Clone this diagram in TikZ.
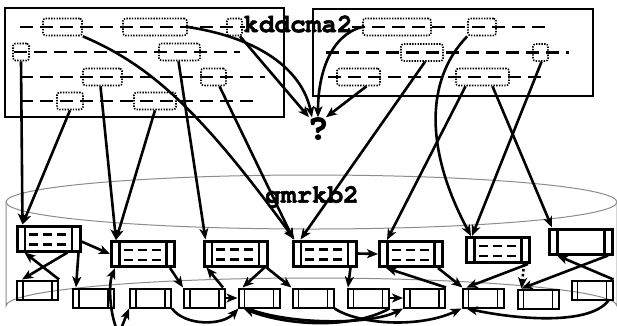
\documentclass[tikz,border=0pt]{standalone}
\usepackage{fontspec}
\newfontfamily\cour[BoldFeatures={FakeBold=2}]{TeX Gyre Cursor}
\usetikzlibrary{arrows.meta}
\begin{document}
\begin{tikzpicture}[x=1pt,y=-1pt,
  conn/.style={line width=2.6pt,-{Stealth[length=11pt,width=9pt,inset=3pt]}},
  bigbox/.style={line width=2.4pt},
  dline/.style={line width=2.4pt,dash pattern=on 13pt off 7pt},
  dbox/.style={draw,line width=1.6pt,dash pattern=on 1.4pt off 1.3pt,rounded corners=2.5pt,inner sep=0pt,minimum height=17pt,minimum width=#1},
  cyl/.style={draw=black!45,line width=1pt},
  lbl/.style={font=\cour\bfseries\fontsize{26}{26}\selectfont,inner sep=0pt},
  recB/.style={draw,line width=3pt,inner sep=0pt,minimum width=63pt,minimum height=25pt,
    path picture={
      \draw[line width=2.4pt] ([xshift=8pt]path picture bounding box.north west) -- ([xshift=8pt]path picture bounding box.south west);
      \draw[line width=2.4pt] ([xshift=-8pt]path picture bounding box.north east) -- ([xshift=-8pt]path picture bounding box.south east);
    }},
  recBd/.style={draw,line width=3pt,inner sep=0pt,minimum width=63pt,minimum height=25pt,
    path picture={
      \draw[line width=2.4pt] ([xshift=8pt]path picture bounding box.north west) -- ([xshift=8pt]path picture bounding box.south west);
      \draw[line width=2.4pt] ([xshift=-8pt]path picture bounding box.north east) -- ([xshift=-8pt]path picture bounding box.south east);
      \draw[line width=2.4pt,dash pattern=on 9pt off 5pt] ([xshift=12pt,yshift=-8.5pt]path picture bounding box.north west) -- ++(37pt,0pt);
      \draw[line width=2.4pt,dash pattern=on 9pt off 5pt] ([xshift=12pt,yshift=-18.5pt]path picture bounding box.north west) -- ++(37pt,0pt);
    }},
  recS/.style={draw,line width=2pt,inner sep=0pt,minimum width=41pt,minimum height=19pt,
    path picture={
      \draw[line width=1.8pt] ([xshift=6pt]path picture bounding box.north west) -- ([xshift=6pt]path picture bounding box.south west);
      \draw[line width=1.8pt] ([xshift=-6pt]path picture bounding box.north east) -- ([xshift=-6pt]path picture bounding box.south east);
    }}
]
\fill[white] (0,0) rectangle (617,325);
\useasboundingbox (0,0) rectangle (617,325);
\clip (0,0) rectangle (617,325);

% cylinder
\draw[cyl] (311.5,202) ellipse [x radius=305.5, y radius=27];
\draw[cyl] (6,202) -- (6,306) arc[start angle=180,end angle=360,x radius=305.5,y radius=28] -- (617,202);

% big boxes
\draw[bigbox] (5,8) rectangle (284,117);
\draw[bigbox] (313,9) rectangle (593,96);

% dashed rows
\draw[dline] (20,27) -- (245,27);
\draw[dline] (14,52) -- (240,52);
\draw[dline] (20,77) -- (265,77);
\draw[dline] (20,101) -- (255,101);
\draw[dline] (352,27) -- (550,27);
\draw[dline] (326,52.5) -- (569,52.5);
\draw[dline] (328,77) -- (543,77);

% dotted boxes
\node[dbox=39] (L1a) at (62.5,27) {};
\node[dbox=64] (L1b) at (155,27) {};
\node[dbox=15] (L1c) at (234.5,27) {};
\node[dbox=16] (L2a) at (21,52) {};
\node[dbox=41] (L2b) at (179.5,52) {};
\node[dbox=39] (L3a) at (102.5,77) {};
\node[dbox=25] (L3b) at (213.5,77) {};
\node[dbox=26] (L4a) at (70,101) {};
\node[dbox=42] (L4b) at (155,101) {};
\node[dbox=68] (R1a) at (397,27) {};
\node[dbox=28] (R1b) at (482,27) {};
\node[dbox=42] (R2a) at (422,52.5) {};
\node[dbox=15] (R2b) at (540.5,52.5) {};
\node[dbox=43] (R3a) at (358.5,77) {};
\node[dbox=53] (R3b) at (482.5,77) {};

% labels
\node[lbl] (kdd) at (298,24) {kddcma2};
\node[lbl] (gmr) at (312,197) {gmrkb2};
\node[lbl,font=\cour\bfseries\fontsize{36}{36}\selectfont] (q) at (318,128.5) {?};

% record nodes
\node[recBd] (B1) at (48.5,238.5) {};
\node[recBd] (B2) at (143,254) {};
\node[recBd] (B3) at (235.5,253.5) {};
\node[recBd] (B4) at (324.5,253.5) {};
\node[recBd] (B5) at (411,254) {};
\node[recBd] (B6) at (498,250) {};
\node[recB] (B7) at (581,241.5) {};

\node[recS] (S1) at (37.5,290) {};
\node[recS] (S2) at (93.5,298) {};
\node[recS] (S3) at (150.5,298) {};
\node[recS] (S4) at (204.5,298) {};
\node[recS] (S5) at (259,298) {};
\node[recS] (S6) at (313,298) {};
\node[recS] (S7) at (368,298) {};
\node[recS] (S8) at (424.5,298) {};
\node[recS] (S9) at (483,298) {};
\node[recS] (S10) at (538,299) {};
\node[recS] (S11) at (592,290) {};

\coordinate (h1) at (119,334);

% top to bottom connectors
\draw[conn] (L2a.south) -- ([xshift=7]B1.north west);
\draw[conn] (L4a.south) -- ([xshift=7]B1.north west);
\draw[conn] ([xshift=-2]L3a.south) -- ([xshift=6]B2.north west);
\draw[conn] (L4b.south) -- ([xshift=6]B2.north west);
\draw[conn] ([xshift=-1]L2b.south) -- ([xshift=3]B3.north west);
\draw[conn] ([xshift=6]L3b.south) -- ([xshift=2]B4.north west);
\draw[conn] (L1a.south east) .. controls (150,65) and (200,110) .. ([xshift=3]B4.north west);
\draw[conn] ([xshift=3]R2a.south) -- ([xshift=9]B4.north west);
\draw[conn] (L1b.east) .. controls (260,38) and (302,70) .. ([xshift=-6]q.north);
\draw[conn] ([xshift=5.5]L1c.south) -- ([xshift=-9]q.north);
\draw[conn] (R1a.west) .. controls (330,35) and (318,75) .. (q.north);
\draw[conn] ([xshift=8]R3a.south) -- ([xshift=8]q.north);
\draw[conn] (R1b.south west) .. controls (425,80) and (425,150) .. ([xshift=6]B6.north west);
\draw[conn] ([xshift=-17]R3b.south) -- ([xshift=9]B5.north west);
\draw[conn] ([xshift=10]R3b.south) -- ([xshift=4]B7.north west);
\draw[conn] ([xshift=1]R2b.south) -- ([xshift=7]B6.north west);

% bottom connectors
\draw[conn] ([yshift=-3]B1.east) -- (B2.west);
\draw[conn] ([xshift=-3]B1.south east) -- ([xshift=4]S2.north west);
\draw[conn] ([xshift=-14]B1.south east) -- ([xshift=6]S1.north west);
\draw[conn] (S1.north east) -- ([xshift=9]B1.south west);
\draw[conn] ([xshift=-6]B2.south east) -- (S4.north west);
\draw[conn] ([xshift=-3]S4.north east) -- ([xshift=4]B3.south west);
\draw[conn] (S4.east) -- (S5.west);
\draw[conn] ([xshift=-4]B3.south east) -- ([xshift=5]S5.north west);
\draw[conn] ([xshift=-2]B3.south east) -- (S6.north west);
\draw[conn] (B4.east) -- (B5.west);
\draw[conn] ([xshift=-7]B4.south east) -- ([xshift=1.5]S7.north west);
\draw[conn] (S7.east) -- (S8.west);
\draw[conn] (S8.north east) -- ([xshift=8]B5.south west);
\draw[conn] ([xshift=-6]B5.south east) -- ([xshift=1]S9.north west);
\draw[conn] ([xshift=-3]B6.south east) -- ([xshift=5]S9.north west);
\draw[conn,dash pattern=on 2.5pt off 2.5pt] ([xshift=-7]B6.south east) -- ([xshift=5]S10.north west);
\draw[conn] ([xshift=-6]B7.south east) -- ([xshift=5]S10.north west);
\draw[conn] (S11.north east) -- ([xshift=9]B7.south west);
\draw[conn] ([xshift=-5]S11.south east) .. controls (590,325) and (520,320) .. ([xshift=5]S9.south west);
\draw[conn] (h1) .. controls (110,318) and (108,285) .. ([xshift=5]B2.south west);
\draw[conn] (h1) -- (S3.south west);
\draw[conn] (S3.south east) .. controls (185,326) and (222,326) .. ([xshift=1]S5.south west);
\draw[conn] (S7.south east) .. controls (350,330) and (285,325) .. ([xshift=6]S5.south west);
\draw[conn] ([xshift=10]S5.south west) .. controls (290,325) and (370,325) .. (S8.south west);
\draw[conn] (S6.south east) .. controls (360,325) and (420,328) .. (S9.south west);
\end{tikzpicture}
\end{document}
